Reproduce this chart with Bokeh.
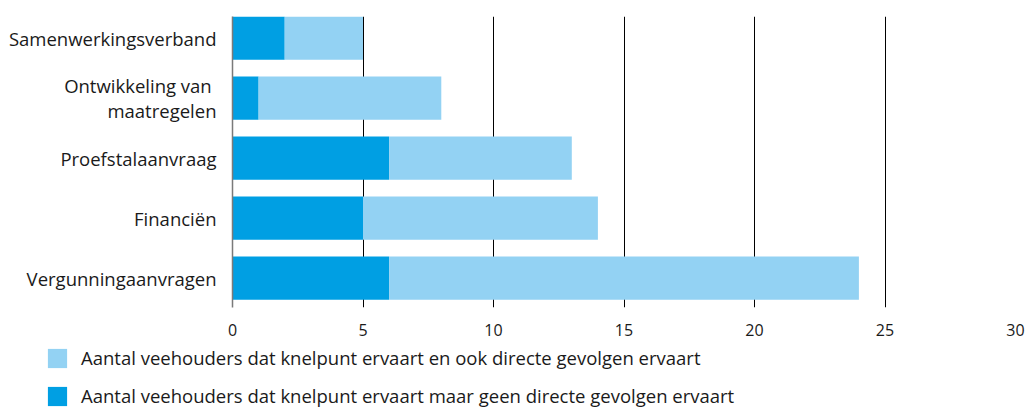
from bokeh.plotting import figure
from bokeh.models import Range1d, FixedTicker, Legend, LegendItem, ColumnDataSource
from bokeh.layouts import column, row
from bokeh.embed import file_html
from bokeh.resources import INLINE

categories = ["Vergunningaanvragen", "Financiën", "Proefstalaanvraag",
              "Ontwikkeling van \nmaatregelen", "Samenwerkingsverband"]
geen_gevolgen = [6, 5, 6, 1, 2]
ook_gevolgen = [18, 9, 7, 7, 3]
x_ticks = [0, 5, 10, 15, 20, 25, 30]
legend_labels = ["Aantal veehouders dat knelpunt ervaart en ook directe gevolgen ervaart",
                 "Aantal veehouders dat knelpunt ervaart maar geen directe gevolgen ervaart"]

DARK = "#009FE3"
LIGHT = "#93D2F3"
FONT = "Open Sans"
TXT = "#1a1a1a"

ypos = list(range(len(categories)))
totals = [a + b for a, b in zip(geen_gevolgen, ook_gevolgen)]
src = ColumnDataSource(dict(y=ypos, dark=geen_gevolgen, total=totals, zero=[0] * len(ypos)))

p = figure(width=1030, height=346, output_backend="svg", toolbar_location=None,
           x_range=Range1d(0, 30), y_range=Range1d(-0.49, 4.36),
           min_border_left=232, min_border_right=15, min_border_top=16, min_border_bottom=39)
p.outline_line_color = None

r_dark = p.hbar(y="y", left="zero", right="dark", height=0.72, color=DARK, line_color=None, source=src)
r_light = p.hbar(y="y", left="dark", right="total", height=0.72, color=LIGHT, line_color=None, source=src)

p.xaxis.ticker = FixedTicker(ticks=x_ticks)
p.xaxis.axis_line_color = None
p.xaxis.major_tick_line_color = None
p.xaxis.minor_tick_line_color = None
p.xaxis.major_label_standoff = 10
p.xaxis.major_label_text_font = FONT
p.xaxis.major_label_text_font_size = "16px"
p.xaxis.major_label_text_color = TXT

p.yaxis.ticker = FixedTicker(ticks=ypos)
p.yaxis.major_label_overrides = {i: c for i, c in enumerate(categories)}
p.yaxis.axis_line_color = "#7a7a7a"
p.yaxis.axis_line_width = 1.5
p.yaxis.major_tick_line_color = None
p.yaxis.minor_tick_line_color = None
p.yaxis.major_label_standoff = 10
p.yaxis.major_label_text_font = FONT
p.yaxis.major_label_text_font_size = "18.5px"
p.yaxis.major_label_text_line_height = 1.0
p.yaxis.major_label_text_color = TXT

p.xgrid.ticker = FixedTicker(ticks=x_ticks)
p.xgrid.grid_line_color = "black"
p.xgrid.grid_line_width = 1
p.ygrid.grid_line_color = None

# legend panel (its bars sit outside its visible y range; only the legend shows)
lp = figure(width=1030, height=63, output_backend="svg", toolbar_location=None,
            x_range=Range1d(0, 30), y_range=Range1d(100, 101),
            min_border_left=0, min_border_right=0, min_border_top=0, min_border_bottom=0)
lp.axis.visible = False
lp.grid.visible = False
lp.outline_line_color = None
l_dark = lp.hbar(y="y", left="zero", right="dark", height=0.72, color=DARK, line_color=None, source=src)
l_light = lp.hbar(y="y", left="dark", right="total", height=0.72, color=LIGHT, line_color=None, source=src)

legend = Legend(items=[LegendItem(label=legend_labels[0], renderers=[l_light]),
                       LegendItem(label=legend_labels[1], renderers=[l_dark])],
                location=(45, 1), orientation="vertical",
                glyph_width=24, glyph_height=24, spacing=13, padding=0, margin=0,
                label_standoff=12, border_line_color=None, background_fill_alpha=0,
                label_text_font=FONT, label_text_font_size="18.5px",
                label_text_color=TXT)
lp.add_layout(legend)

open("out.html", "w").write(file_html(column(p, row(lp), spacing=0), INLINE))
